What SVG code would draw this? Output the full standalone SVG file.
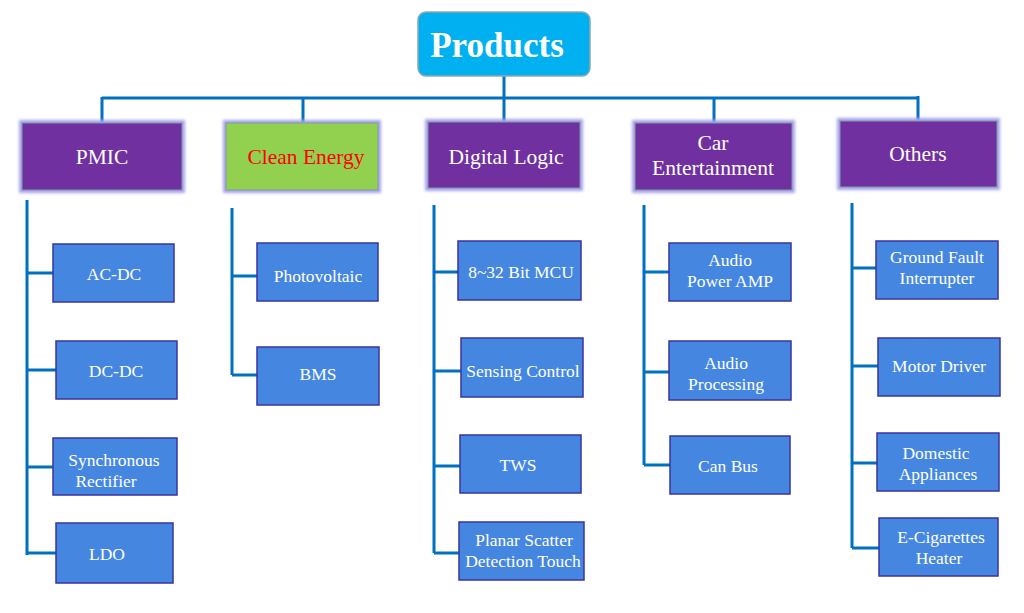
<svg xmlns="http://www.w3.org/2000/svg" width="1024" height="613" viewBox="0 0 1024 613">
<defs>
<filter id="blur" x="-10%" y="-20%" width="120%" height="140%"><feGaussianBlur stdDeviation="1.5"/></filter>
</defs>
<style>
.ln{stroke:#0070C0;stroke-width:3;fill:none}
.cat{fill:#7030A0;stroke:#7F9F9F;stroke-width:1}
.glow{fill:none;stroke:#A7A2F2;stroke-width:6;filter:url(#blur)}
.leaf{fill:#4587E0;stroke:#3A35A0;stroke-width:1.5}
text{font-family:'Liberation Serif','Times New Roman',serif}
</style>
<rect width="1024" height="613" fill="#fff"/>
<g id="connectors">
<path class="ln" d="M504 76V98M102 98H918M102 97V124M303 97V124M504 98V122M714 97V124M918 96V121"/>
<path class="ln" d="M27 200V555M27 273H53M27 370H56M27 467H53M27 553H56"/>
<path class="ln" d="M232 208V375M232 276H257M232 375H257"/>
<path class="ln" d="M434 205V553M434 272H458M434 371H461M434 466H460M434 553H459"/>
<path class="ln" d="M644 205V465M644 272H669M644 372H669M644 465H670"/>
<path class="ln" d="M852 203V548M852 268H876M852 366H878M852 463H877M852 548H879"/>
</g>
<g id="products">
<rect x="418" y="12" width="172" height="64" rx="8" fill="#00B0F0" stroke="#8FA8AF" stroke-width="1.5"/>
<text x="497" y="57" font-size="35" font-weight="bold" fill="#fff" text-anchor="middle">Products</text>
</g>
<g font-size="21.5" fill="#fff" text-anchor="middle">
<g id="pmic"><rect class="glow" x="22" y="123" width="160" height="67"/><rect class="cat" x="22" y="123" width="160" height="67"/><text x="102" y="164">PMIC</text></g>
<g id="clean-energy"><rect class="glow" x="226" y="123" width="152" height="67"/><rect x="226" y="123" width="152" height="67" fill="#92D050" stroke="#7F9F9F"/><text x="306" y="164" fill="#FF0000">Clean Energy</text></g>
<g id="digital-logic"><rect class="glow" x="428" y="122" width="152" height="66"/><rect class="cat" x="428" y="122" width="152" height="66"/><text x="506" y="164">Digital Logic</text></g>
<g id="car-entertainment"><rect class="glow" x="635" y="123" width="157" height="67"/><rect class="cat" x="635" y="123" width="157" height="67"/><text x="713" y="150">Car</text><text x="713" y="175">Entertainment</text></g>
<g id="others"><rect class="glow" x="840" y="121" width="157" height="66"/><rect class="cat" x="840" y="121" width="157" height="66"/><text x="918" y="161">Others</text></g>
</g>
<g font-size="17.5" fill="#fff" text-anchor="middle">
<g id="ac-dc"><rect class="leaf" x="53" y="244" width="121" height="58"/><text x="114" y="280">AC-DC</text></g>
<g id="dc-dc"><rect class="leaf" x="56" y="341" width="121" height="58"/><text x="116" y="377">DC-DC</text></g>
<g id="sync-rect"><rect class="leaf" x="53" y="438" width="124" height="57"/><text x="114" y="466">Synchronous</text><text x="106" y="487">Rectifier</text></g>
<g id="ldo"><rect class="leaf" x="56" y="523" width="117" height="60"/><text x="107" y="560">LDO</text></g>
<g id="photovoltaic"><rect class="leaf" x="257" y="243" width="121" height="58"/><text x="318" y="282">Photovoltaic</text></g>
<g id="bms"><rect class="leaf" x="257" y="347" width="122" height="58"/><text x="318" y="380">BMS</text></g>
<g id="mcu"><rect class="leaf" x="458" y="241" width="123" height="59"/><text x="521" y="278">8~32 Bit MCU</text></g>
<g id="sensing"><rect class="leaf" x="461" y="338" width="122" height="59"/><text x="523" y="377">Sensing Control</text></g>
<g id="tws"><rect class="leaf" x="460" y="435" width="121" height="58"/><text x="518" y="471">TWS</text></g>
<g id="planar"><rect class="leaf" x="459" y="522" width="125" height="58"/><text x="524" y="546">Planar Scatter</text><text x="523" y="567">Detection Touch</text></g>
<g id="audio-amp"><rect class="leaf" x="669" y="243" width="122" height="58"/><text x="730" y="266">Audio</text><text x="730" y="287">Power AMP</text></g>
<g id="audio-proc"><rect class="leaf" x="669" y="341" width="122" height="59"/><text x="726" y="369">Audio</text><text x="726" y="390">Processing</text></g>
<g id="can-bus"><rect class="leaf" x="670" y="436" width="120" height="58"/><text x="728" y="472">Can Bus</text></g>
<g id="gfi"><rect class="leaf" x="876" y="241" width="122" height="58"/><text x="937" y="263">Ground Fault</text><text x="937" y="284">Interrupter</text></g>
<g id="motor"><rect class="leaf" x="878" y="338" width="122" height="58"/><text x="939" y="372">Motor Driver</text></g>
<g id="domestic"><rect class="leaf" x="877" y="433" width="122" height="58"/><text x="936" y="459">Domestic</text><text x="938" y="480">Appliances</text></g>
<g id="ecig"><rect class="leaf" x="879" y="518" width="119" height="58"/><text x="941" y="543">E-Cigarettes</text><text x="939" y="564">Heater</text></g>
</g>
</svg>
